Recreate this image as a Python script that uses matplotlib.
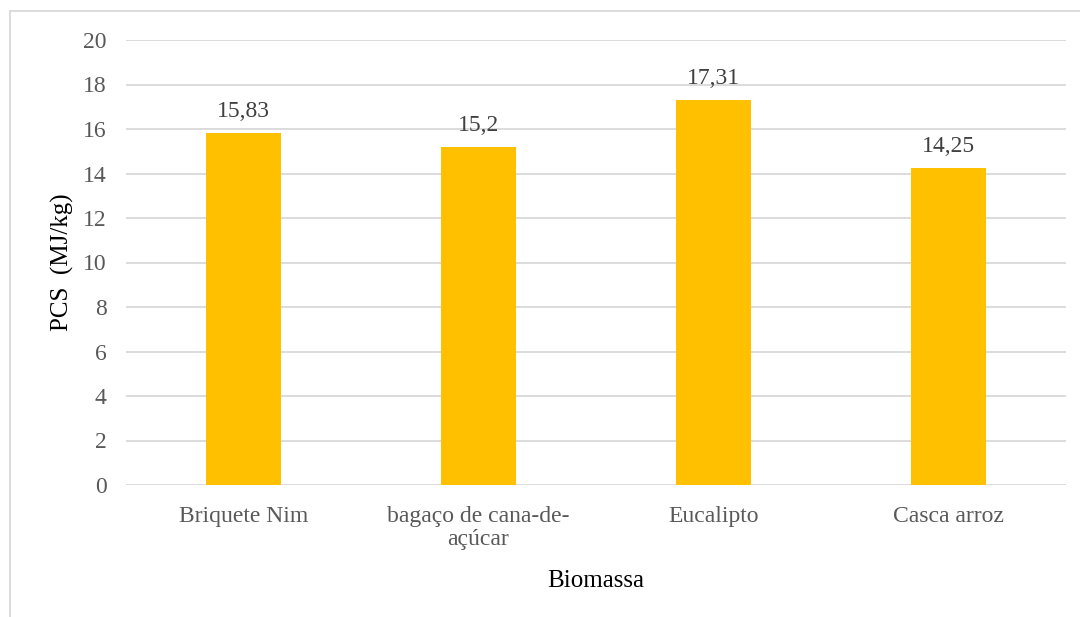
import matplotlib
matplotlib.use("Agg")
import matplotlib.pyplot as plt
from matplotlib.lines import Line2D
import numpy as np

# Data
categories = ["Briquete Nim", "bagaço de cana-de-\naçúcar", "Eucalipto", "Casca arroz"]
pcs_values = [15.83, 15.2, 17.31, 14.25]
value_labels = ["15,83", "15,2", "17,31", "14,25"]
y_ticks = [0, 2, 4, 6, 8, 10, 12, 14, 16, 18, 20]

plt.rcParams["font.family"] = ["Liberation Serif", "DejaVu Serif"]

fig = plt.figure(figsize=(10.8, 6.17), dpi=100)
ax = fig.add_axes([126 / 1080, 1 - 485 / 617, 940 / 1080, 445 / 617])

x = np.arange(len(categories))
ax.bar(x, pcs_values, width=0.315, color="#FFC000", zorder=3)

for xi, v, lab in zip(x, pcs_values, value_labels):
    ax.annotate(lab, (xi, v), xytext=(0, 8), textcoords="offset points",
                ha="center", va="bottom", fontsize=17, color="#404040")

ax.set_xlim(-0.5, len(categories) - 0.5)
ax.set_ylim(0, 20)
ax.set_yticks(y_ticks)
ax.set_xticks(x)
ax.set_xticklabels(categories, fontsize=17, color="#595959", linespacing=1.15)
ax.tick_params(axis="y", labelsize=17, labelcolor="#595959", length=0, pad=14)
ax.tick_params(axis="x", length=0, pad=15)
ax.grid(axis="y", color="#D9D9D9", linewidth=1.3, zorder=0)
for s in ax.spines.values():
    s.set_visible(False)

ax.set_ylabel("PCS  (MJ/kg)", fontsize=18, color="black", labelpad=6)
ax.set_xlabel("Biomassa", fontsize=18, color="black", labelpad=14)

# chart area border (partially cropped in the original)
bx, by = 10 / 1080, 1 - 11 / 617
fig.add_artist(Line2D([bx, 1], [by, by], color="#D9D9D9", linewidth=1.3, transform=fig.transFigure))
fig.add_artist(Line2D([bx, bx], [0, by], color="#D9D9D9", linewidth=1.3, transform=fig.transFigure))

fig.savefig("out.png", dpi=100)
